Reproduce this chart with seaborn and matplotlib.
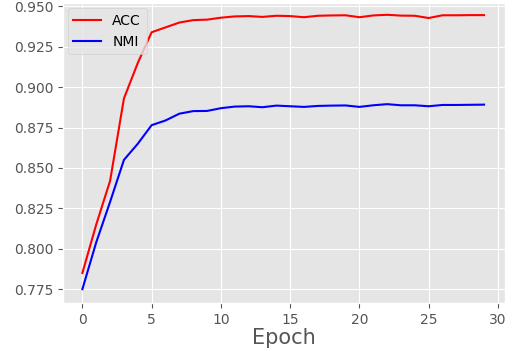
import numpy as np
import pandas as pd
import seaborn as sns
import matplotlib
matplotlib.use("Agg")
import matplotlib.pyplot as plt

# Values
epochs = list(range(30))
acc = [0.785, 0.815, 0.842, 0.893, 0.915, 0.934, 0.937, 0.940, 0.9415, 0.9418,
       0.943, 0.9438, 0.944, 0.9435, 0.9442, 0.944, 0.9433, 0.9442, 0.9444, 0.9445,
       0.9433, 0.9444, 0.9448, 0.9443, 0.9442, 0.9428, 0.9445, 0.9445, 0.9446, 0.9446]
nmi = [0.775, 0.804, 0.829, 0.855, 0.865, 0.8765, 0.8794, 0.8836, 0.8852, 0.8853,
       0.887, 0.888, 0.8882, 0.8876, 0.8886, 0.8882, 0.8878, 0.8884, 0.8886, 0.8887,
       0.8878, 0.8888, 0.8895, 0.8888, 0.8888, 0.8882, 0.889, 0.889, 0.8891, 0.8892]

df = pd.DataFrame({"Epoch": epochs * 2,
                   "value": acc + nmi,
                   "metric": ["ACC"] * 30 + ["NMI"] * 30})

plt.style.use("ggplot")
fig = plt.figure(figsize=(5.18, 3.51), dpi=100)
ax = fig.add_axes([0.1216, 0.137, 0.853, 0.854])

sns.lineplot(data=df, x="Epoch", y="value", hue="metric",
             palette={"ACC": "red", "NMI": "blue"}, linewidth=1.5, ax=ax)

ax.set_xlabel("Epoch", fontsize=15, labelpad=1)
ax.set_ylabel("")
ax.set_xticks(range(0, 31, 5))
yt = np.arange(0.775, 0.951, 0.025)
ax.set_yticks(yt)
ax.set_yticklabels([f"{v:.3f}" for v in yt])
ax.tick_params(labelsize=10)
ax.set_xlim(-1.4, 30.5)
ax.set_ylim(0.7665, 0.952)
leg = ax.legend(loc="upper left", fontsize=10, title=None, borderaxespad=0.35)

fig.savefig("out.png", dpi=100)
